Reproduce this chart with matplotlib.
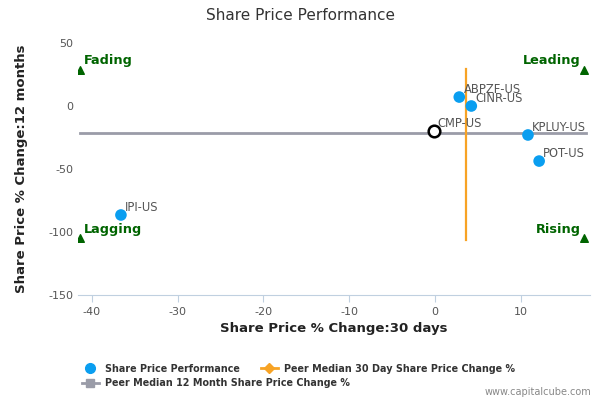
import matplotlib
matplotlib.use("Agg")
import matplotlib.pyplot as plt
from matplotlib.lines import Line2D

plt.rcParams["axes.unicode_minus"] = False

tickers = ["IPI-US", "ABPZF-US", "CINR-US", "CMP-US", "KPLUY-US", "POT-US"]
chg_30d = [-36.6, 2.8, 4.2, -0.2, 10.8, 12.1]
chg_12m = [-86.5, 7.1, 0.0, -19.8, -23.0, -43.7]
peer_median_30d = 3.6
peer_median_12m = -21.4
quad_names = ["Fading", "Leading", "Lagging", "Rising"]
quad_x = [-41.4, 17.3, -41.4, 17.3]
quad_y = [28.6, 28.6, -105.0, -105.0]
x_ticks = [-40, -30, -20, -10, 0, 10]
y_ticks = [50, 0, -50, -100, -150]

fig = plt.figure(figsize=(6, 4), dpi=100)
ax = fig.add_axes([0.13, 0.2625, 0.853, 0.63])
ax.set_xlim(-41.6, 18.0)
ax.set_ylim(-150, 50)

blue = "#0a9ef0"
orange = "#f7a325"
gray = "#9a9ca8"
green = "#006400"

ax.plot([-41.6 + 0.2, 17.5], [peer_median_12m] * 2, color=gray, lw=2, zorder=2)
ax.plot([peer_median_30d] * 2, [29, -106], color=orange, lw=1.6, zorder=2)

for t, x, y in zip(tickers, chg_30d, chg_12m):
    if t == "CMP-US":
        ax.scatter([x], [y], s=70, facecolor="white", edgecolor="black", lw=1.8, zorder=4)
    else:
        ax.scatter([x], [y], s=70, color=blue, zorder=4, edgecolor="none")
    ax.annotate(t, (x, y), xytext=(3, 3), textcoords="offset points",
                fontsize=8.3, color="#555555", zorder=5)

for name, x, y in zip(quad_names, quad_x, quad_y):
    ax.scatter([x], [y], marker="^", s=30, color=green, zorder=3)
    if x < 0:
        ax.annotate(name, (x, y), xytext=(3, 4), textcoords="offset points",
                    fontsize=9.3, fontweight="bold", color=green, ha="left")
    else:
        ax.annotate(name, (x, y), xytext=(-2, 4), textcoords="offset points",
                    fontsize=9.3, fontweight="bold", color=green, ha="right")

ax.set_xticks(x_ticks)
ax.set_yticks(y_ticks)
ax.tick_params(axis="x", colors="#c0d0e0", labelcolor="#555555", labelsize=8, length=5, direction="out")
ax.tick_params(axis="y", length=0, labelcolor="#555555", labelsize=8)
for s in ["top", "right", "left"]:
    ax.spines[s].set_visible(False)
ax.spines["bottom"].set_color("#c0d0e0")

ax.set_xlabel("Share Price % Change:30 days", fontsize=9.5, fontweight="bold", color="#222222")
ax.yaxis.set_label_coords(-0.097, 0.5)
ax.set_ylabel("Share Price % Change:12 months", fontsize=9.5, fontweight="bold", color="#222222")

fig.text(0.5, 0.96, "Share Price Performance", ha="center", va="center",
         fontsize=11, color="#333333")

h1 = Line2D([], [], marker="o", color=blue, ls="none", markersize=7)
h2 = Line2D([], [], marker="D", color=orange, lw=2, markersize=5)
h3 = Line2D([], [], marker="s", color=gray, lw=2, markersize=6)
leg1 = fig.legend([h1, h2], ["Share Price Performance", "Peer Median 30 Day Share Price Change %"],
                  loc="upper left", bbox_to_anchor=(0.128, 0.103), ncol=2, frameon=False,
                  prop={"size": 6.9, "weight": "bold"}, handlelength=1.8, columnspacing=2.2,
                  borderpad=0, handletextpad=0.6)
for t in leg1.get_texts():
    t.set_color("#333333")
leg2 = fig.legend([h3], ["Peer Median 12 Month Share Price Change %"],
                  loc="upper left", bbox_to_anchor=(0.128, 0.067), frameon=False,
                  prop={"size": 6.9, "weight": "bold"}, handlelength=1.8,
                  borderpad=0, handletextpad=0.6)
for t in leg2.get_texts():
    t.set_color("#333333")

fig.text(0.985, 0.02, "www.capitalcube.com", ha="right", va="center", fontsize=7, color="#888888")

fig.savefig("out.png", dpi=100)
